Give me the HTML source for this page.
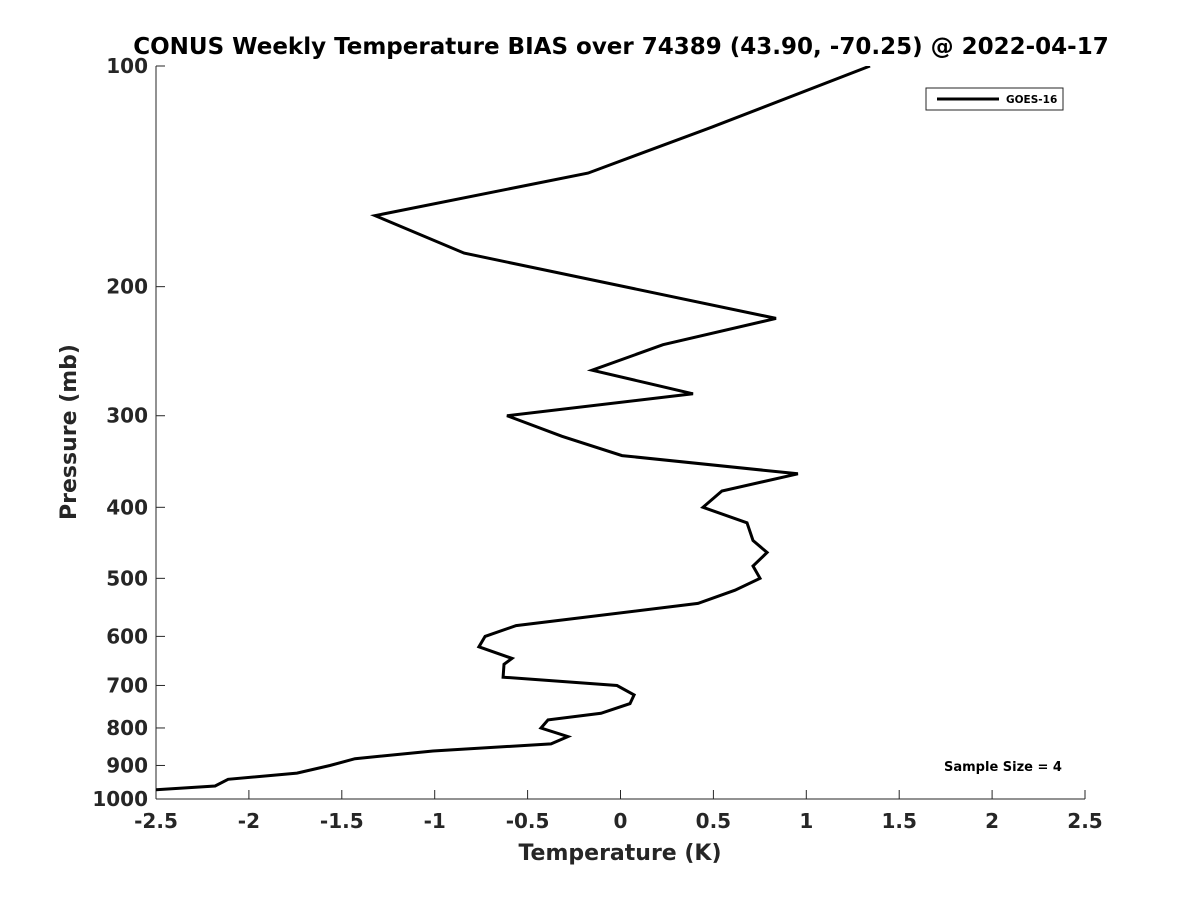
<!DOCTYPE html>
<html><head><meta charset="utf-8"><style>
body{margin:0;background:#fff;}
svg text{font-family:"DejaVu Sans","Liberation Sans",sans-serif;font-weight:bold;fill:#262626;}
</style></head><body>
<svg width="1200" height="900" viewBox="0 0 1200 900">
<rect width="1200" height="900" fill="#fff"/>
<text x="621" y="54" text-anchor="middle" font-size="23" style="fill:#000">CONUS Weekly Temperature BIAS over 74389 (43.90, -70.25) @ 2022-04-17</text>
<defs><clipPath id="pc"><rect x="156" y="66" width="929" height="733"/></clipPath></defs>
<g id="axes"></g>
<g id="plot" clip-path="url(#pc)"></g>
<text x="620" y="860" text-anchor="middle" font-size="22">Temperature (K)</text>
<text transform="translate(76,432) rotate(-90)" text-anchor="middle" font-size="22">Pressure (mb)</text>
<g>
<rect x="926" y="88" width="137" height="22" fill="#fff" stroke="#262626" stroke-width="1"/>
<line x1="937" y1="99" x2="999" y2="99" stroke="#000" stroke-width="3"/>
<text x="1006" y="103" font-size="10.5" style="fill:#000">GOES-16</text>
</g>
<text x="1003" y="771" text-anchor="middle" font-size="13" style="fill:#000">Sample Size = 4</text>
</svg>
<script>
const xTicks=[-2.5,-2,-1.5,-1,-0.5,0,0.5,1,1.5,2,2.5];
const xTickLabels=["-2.5","-2","-1.5","-1","-0.5","0","0.5","1","1.5","2","2.5"];
const yTicks=[100,200,300,400,500,600,700,800,900,1000];
const biasValues=[1.343,0.498,-0.175,-1.321,-0.842,0.837,0.229,-0.153,0.39,-0.611,-0.315,0.008,0.955,0.546,0.444,0.681,0.713,0.789,0.713,0.751,0.616,0.417,-0.562,-0.729,-0.762,-0.584,-0.627,-0.632,-0.019,0.073,0.051,-0.105,-0.39,-0.428,-0.283,-0.374,-1.009,-1.429,-1.564,-1.741,-2.112,-2.182,-2.6];
const pressureLevels=[100,121,140,160,180,221,240,260,280,300,320,340,360,380,400,420,444,461,481,500,519,541,580,600,620,643,655,682,700,721,741,764,780,800,822,841,860,881,900,922,940,960,975];
const NS="http://www.w3.org/2000/svg";
const X0=156,X1=1085,Y0=66,Y1=799;
const xs=v=>X0+(v+2.5)/5*(X1-X0);
const ys=p=>Y0+(Math.log10(p)-2)*(Y1-Y0);
function mk(t,a,parent){const e=document.createElementNS(NS,t);for(const k in a)e.setAttribute(k,a[k]);parent.appendChild(e);return e;}
const axes=document.getElementById('axes');
let l=mk('line',{x1:X0,y1:Y0,x2:X0,y2:Y1,stroke:'#262626','stroke-width':1},axes);


l=mk('line',{x1:X0,y1:Y1,x2:X1,y2:Y1,stroke:'#262626','stroke-width':1},axes);


xTicks.forEach((v,i)=>{
  const x=xs(v);
  const t=mk('line',{x1:x,y1:Y1,x2:x,y2:Y1-9,stroke:'#262626'},axes);
  
  
  const tx=mk('text',{x:x,y:Y1+29,'text-anchor':'middle','font-size':20},axes);
  tx.textContent=xTickLabels[i];
  
  
});
yTicks.forEach(p=>{
  const y=ys(p);
  const t=mk('line',{x1:X0,y1:y,x2:X0+9,y2:y,stroke:'#262626'},axes);
  
  
  const tx=mk('text',{x:X0-8,y:y+7,'text-anchor':'end','font-size':20},axes);
  tx.textContent=String(p);
  
  
});
const pts=biasValues.map((v,i)=>xs(v).toFixed(1)+','+ys(pressureLevels[i]).toFixed(1)).join(' ');
const pl=mk('polyline',{points:pts,fill:'none',stroke:'#000','stroke-width':3,'stroke-linejoin':'miter'},document.getElementById('plot'));


</script>
</body></html>
